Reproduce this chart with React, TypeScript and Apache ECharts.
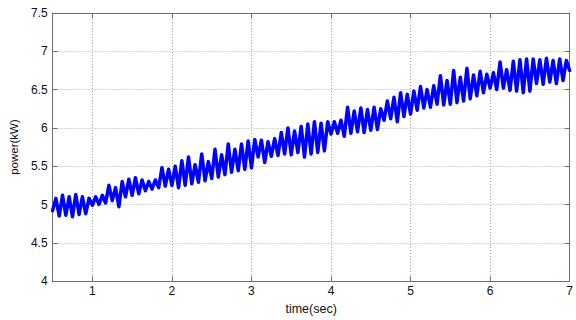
import React, { useEffect, useRef } from "react";
import * as echarts from "echarts";

// Oscillation read cycle by cycle (about 12 cycles per second) from 0.5 s to 7 s
const startTime = 0.5;
const cyclesPerSecond = 12;
const troughs = [
  4.92, 4.85, 4.86, 4.84, 4.87, 4.88, 4.99, 5.0, 5.02, 5.05,
  4.97, 5.1, 5.12, 5.14, 5.18, 5.2, 5.22, 5.24, 5.25, 5.22,
  5.25, 5.27, 5.29, 5.31, 5.34, 5.36, 5.39, 5.42, 5.44, 5.46,
  5.48, 5.62, 5.55, 5.63, 5.64, 5.66, 5.65, 5.68, 5.62, 5.66,
  5.68, 5.7, 5.92, 5.93, 5.89, 5.93, 5.95, 5.94, 5.97, 5.98,
  6.1, 6.12, 6.08, 6.15, 6.18, 6.23, 6.26, 6.27, 6.31, 6.3,
  6.31, 6.33, 6.35, 6.38, 6.42, 6.46, 6.52, 6.5, 6.52, 6.49,
  6.48, 6.46, 6.48, 6.58, 6.57, 6.6, 6.58, 6.62,
];
const peaks = [
  5.08, 5.12, 5.1, 5.13, 5.1, 5.08, 5.1, 5.12, 5.25, 5.22,
  5.3, 5.33, 5.35, 5.32, 5.3, 5.32, 5.48, 5.46, 5.5, 5.57,
  5.62, 5.52, 5.66, 5.56, 5.72, 5.65, 5.79, 5.72, 5.79, 5.83,
  5.85, 5.84, 5.82, 5.86, 5.94, 6.0, 5.96, 6.02, 6.05, 6.08,
  6.06, 6.08, 6.08, 6.1, 6.27, 6.22, 6.26, 6.24, 6.27, 6.25,
  6.35, 6.4, 6.46, 6.44, 6.48, 6.54, 6.5, 6.55, 6.68, 6.62,
  6.75, 6.66, 6.78, 6.69, 6.74, 6.7, 6.72, 6.86, 6.76, 6.87,
  6.89, 6.9, 6.9, 6.89, 6.91, 6.88, 6.9, 6.88,
];
const endValue = 6.75;

const xTickValues = [1, 2, 3, 4, 5, 6, 7];
const xLabel = "time(sec)";
const yLabel = "power(kW)";

const FONT = "Liberation Sans, Arial, sans-serif";

export default function App() {
  const ref = useRef<HTMLDivElement>(null);

  useEffect(() => {
    if (!ref.current) return;
    const chart = echarts.init(ref.current, undefined, { renderer: "svg" });

    const data: [number, number][] = [];
    for (let k = 0; k < troughs.length; k++) {
      data.push([startTime + k / cyclesPerSecond, troughs[k]]);
      data.push([startTime + (k + 0.5) / cyclesPerSecond, peaks[k]]);
    }
    data.push([startTime + troughs.length / cyclesPerSecond, endValue]);

    const axisLineStyle = { color: "#6e6e6e", width: 1 };
    const splitLineStyle = { color: "#a8a8a8", type: [1, 2] as any, width: 1 };

    chart.setOption({
      animation: false,
      backgroundColor: "#ffffff",
      grid: { left: 51, right: 6, top: 13, bottom: 31, containLabel: false },
      xAxis: [
        {
          type: "value",
          min: 0.5,
          max: 7,
          position: "bottom",
          name: xLabel,
          nameLocation: "middle",
          nameGap: 17,
          nameTextStyle: { color: "#111", fontSize: 12.5, fontFamily: FONT },
          axisLine: { show: true, onZero: false, lineStyle: axisLineStyle },
          axisTick: { show: true, inside: true, length: 5, customValues: xTickValues, lineStyle: axisLineStyle },
          axisLabel: { customValues: xTickValues, color: "#111", fontSize: 12, fontFamily: FONT, margin: 4 },
          splitLine: { show: true, lineStyle: splitLineStyle },
        },
        {
          type: "value",
          min: 0.5,
          max: 7,
          position: "top",
          axisLine: { show: true, onZero: false, lineStyle: axisLineStyle },
          axisTick: { show: true, inside: true, length: 5, customValues: xTickValues, lineStyle: axisLineStyle },
          axisLabel: { show: false },
          splitLine: { show: false },
        },
      ],
      yAxis: [
        {
          type: "value",
          min: 4,
          max: 7.5,
          interval: 0.5,
          position: "left",
          name: yLabel,
          nameLocation: "middle",
          nameGap: 25,
          nameTextStyle: { color: "#111", fontSize: 11.5, fontFamily: FONT },
          axisLine: { show: true, onZero: false, lineStyle: axisLineStyle },
          axisTick: { show: true, inside: true, length: 5, lineStyle: axisLineStyle },
          axisLabel: { color: "#111", fontSize: 12, fontFamily: FONT, margin: 5 },
          splitLine: { show: true, lineStyle: splitLineStyle },
        },
        {
          type: "value",
          min: 4,
          max: 7.5,
          interval: 0.5,
          position: "right",
          axisLine: { show: true, onZero: false, lineStyle: axisLineStyle },
          axisTick: { show: true, inside: true, length: 5, lineStyle: axisLineStyle },
          axisLabel: { show: false },
          splitLine: { show: false },
        },
      ],
      series: [
        {
          type: "line",
          xAxisIndex: 0,
          yAxisIndex: 0,
          data,
          showSymbol: false,
          smooth: false,
          lineStyle: { color: "#0000ff", width: 3.5, join: "round", cap: "round" },
          itemStyle: { color: "#0000ff" },
        },
      ],
    });

    return () => chart.dispose();
  }, []);

  return (
    <div
      ref={ref}
      style={{ position: "fixed", left: 0, top: 0, width: 576, height: 320, background: "#fff" }}
    />
  );
}
